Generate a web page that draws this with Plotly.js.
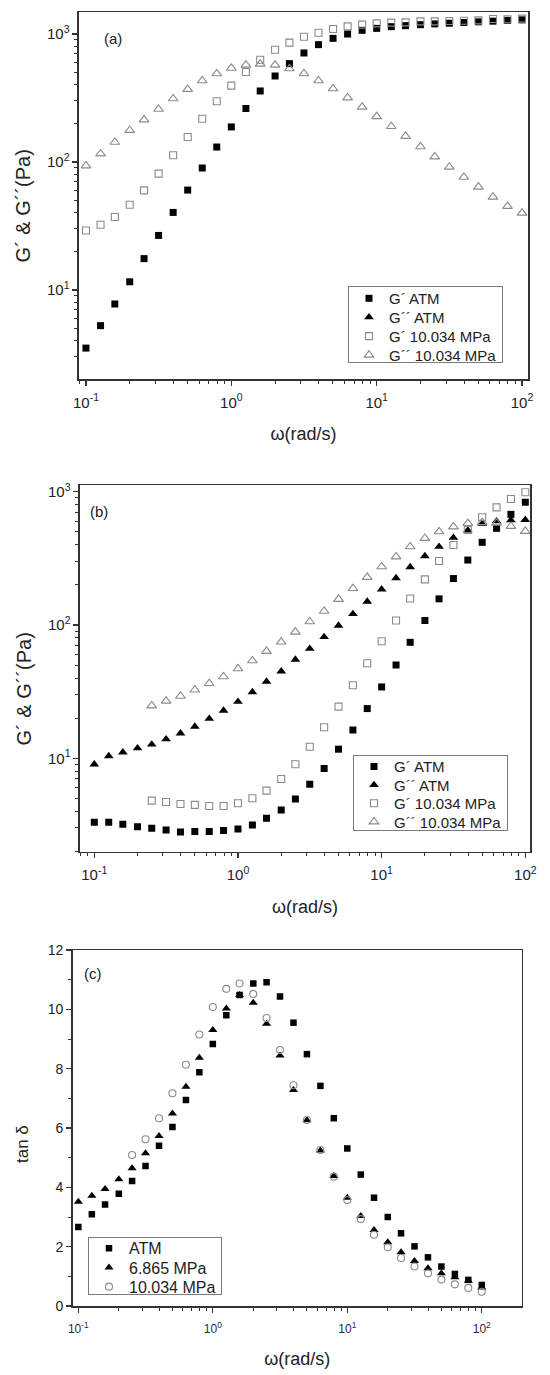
<!DOCTYPE html>
<html>
<head>
<meta charset="utf-8">
<script src="https://cdn.plot.ly/plotly-3.0.1.min.js"></script>
<style>
  html, body { margin: 0; padding: 0; background: #fff; }
  #chart { width: 550px; height: 1375px; }
</style>
</head>
<body>
<div id="chart"></div>
<script>
// ---------- data ----------
const omega = [0.1, 0.126, 0.158, 0.2, 0.251, 0.316, 0.398, 0.501, 0.631, 0.794,
               1, 1.26, 1.58, 2, 2.51, 3.16, 3.98, 5.01, 6.31, 7.94,
               10, 12.6, 15.8, 20, 25.1, 31.6, 39.8, 50.1, 63.1, 79.4, 100];

// panel (a)
const gPrimeAtmA = [3.52, 5.27, 7.78, 11.6, 17.6, 26.7, 40.4, 60.4, 89.8, 131,
                    188, 262, 359, 470, 587, 711, 826, 925, 1000, 1069,
                    1107, 1141, 1162, 1183, 1200, 1215, 1230, 1245, 1260, 1275, 1290];
const gDblAtmA = [null];
const gPrimeMpaA = [29.2, 32.4, 37.2, 46.4, 60.1, 81.1, 113, 157, 218, 298,
                    395, 505, 630, 754, 856, 953, 1024, 1094, 1148, 1183,
                    1212, 1227, 1233, 1256, 1256, 1264, 1271, 1279, 1310, 1302, 1318];
const gDblMpaA = [93.6, 116, 143, 177, 214, 259, 313, 370, 432, 490,
                  542, 573, 583, 573, 536, 490, 432, 374, 318, 269,
                  227, 190, 159, 132, 110, 91.4, 76.3, 63.8, 53.3, 45.1, 40.0];

// panel (b)
const gPrimeAtmB = [3.31, 3.31, 3.20, 3.07, 2.99, 2.90, 2.80, 2.82, 2.82, 2.87,
                    2.95, 3.16, 3.55, 4.10, 4.95, 6.38, 8.37, 11.7, 16.3, 23.6,
                    34.3, 50.1, 74.1, 108, 157, 223, 307, 417, 531, 676, 832];
const gDblAtmB = [9.02, 10.4, 11.1, 11.9, 12.7, 13.9, 15.4, 17.3, 19.8, 22.8,
                  26.6, 31.4, 37.6, 44.9, 55.0, 66.4, 81.3, 98.9, 121, 150,
                  185, 225, 272, 329, 387, 452, 513, 575, 600, 613, 615];
const gPrimeMpaB = [null, null, null, null, 4.81, 4.70, 4.54, 4.47, 4.39, 4.39,
                    4.60, 5.01, 5.72, 7.00, 9.02, 12.2, 17.1, 24.4, 35.3, 51.6,
                    75.4, 108, 158, 220, 302, 398, 516, 642, 763, 881, 989];
const gDblMpaB = [null, null, null, null, 24.8, 26.9, 29.3, 32.6, 36.5, 41.0,
                  47.0, 54.0, 63.5, 74.6, 88.6, 106, 127, 156, 188, 228,
                  274, 325, 387, 447, 501, 546, 579, 589, 582, 550, 505];

// panel (c)
const tanAtm = [2.66, 3.09, 3.42, 3.78, 4.21, 4.72, 5.40, 6.03, 6.94, 7.88,
                8.83, 9.80, 10.48, 10.87, 10.91, 10.43, 9.55, 8.49, 7.42, 6.33,
                5.31, 4.43, 3.65, 3.00, 2.45, 2.01, 1.64, 1.33, 1.08, 0.88, 0.71];
const tan6865 = [3.51, 3.72, 3.94, 4.27, 4.64, 5.15, 5.73, 6.49, 7.39, 8.37,
                 9.30, 10.03, 10.48, 10.22, 9.51, 8.44, 7.28, 6.26, 5.24, 4.38,
                 3.65, 3.03, 2.56, 2.15, 1.81, 1.52, 1.27, 1.10, 0.97, 0.85, 0.62];
const tan10034 = [null, null, null, null, 5.09, 5.62, 6.33, 7.17, 8.13, 9.15,
                  10.08, 10.69, 10.87, 10.52, 9.71, 8.63, 7.44, 6.27, 5.26, 4.36,
                  3.57, 2.93, 2.40, 1.98, 1.62, 1.33, 1.10, 0.89, 0.73, 0.61, 0.48];

// tick labels
const omegaTickVals = [0.1, 1, 10, 100];
const omegaTickText = ['10<sup>-1</sup>', '10<sup>0</sup>', '10<sup>1</sup>', '10<sup>2</sup>'];
const modTickVals = [10, 100, 1000];
const modTickText = ['10<sup>1</sup>', '10<sup>2</sup>', '10<sup>3</sup>'];
const tanTickVals = [0, 2, 4, 6, 8, 10, 12];
const tanTickText = ['0', '2', '4', '6', '8', '10', '12'];

// legend names and titles
const namesAB = ['G\u00B4 ATM', 'G\u00B4\u00B4 ATM', 'G\u00B4 10.034 MPa', 'G\u00B4\u00B4 10.034 MPa'];
const namesC = ['ATM', '6.865 MPa', '10.034 MPa'];
const xTitleText = '\u03C9(rad/s)';
const gTitleText = 'G\u00B4 & G\u00B4\u00B4(Pa)';
const tanTitleText = 'tan \u03B4';
const panelLabels = ['(a)', '(b)', '(c)'];

// ---------- styling helpers ----------
const FONT = 'Liberation Sans, Arial, Helvetica, sans-serif';
const AXC = '#333';
const OPEN = '#8a8a8a';

function logMinor(decStart, decEnd) {
  const v = [];
  for (let d = decStart; d <= decEnd; d++) {
    for (let m = 2; m <= 9; m++) v.push(m * Math.pow(10, d));
  }
  return v;
}
const minorOmega = logMinor(-2, 2);
const minorMod = logMinor(0, 3);
const minorTan = [1, 3, 5, 7, 9, 11];

function mainAxis(o) {
  return Object.assign({
    showline: true, linecolor: AXC, linewidth: 1.5, mirror: true,
    showgrid: false, zeroline: false,
    ticks: 'outside', ticklen: 5, tickwidth: 1.2, tickcolor: AXC,
    tickmode: 'array',
    tickfont: {family: FONT, size: 15, color: '#222'},
    autorange: false
  }, o);
}
function mirrorAxis(o) {
  return Object.assign({
    showline: false, showgrid: false, zeroline: false,
    ticks: 'inside', ticklen: 5, tickwidth: 1.2, tickcolor: AXC,
    tickmode: 'array', showticklabels: false, autorange: false
  }, o);
}
function minor(vals) {
  return {tickmode: 'array', tickvals: vals, ticks: 'outside', ticklen: 3, tickwidth: 1, tickcolor: AXC, showgrid: false};
}
function minorIn(vals) {
  return {tickmode: 'array', tickvals: vals, ticks: 'inside', ticklen: 3, tickwidth: 1, tickcolor: AXC, showgrid: false};
}

const rA = {x: [-1.048, 2.041], y: [0.305, 3.172]};
const rB = {x: [-1.0995, 2.0327], y: [0.2993, 3.050]};
const rC = {x: [-1.042, 2.297], y: [0, 12]};

function xTitle(standoff) {
  return {text: xTitleText, font: {family: FONT, size: 18, color: '#222'}, standoff: standoff};
}

// ---------- traces ----------
const mk = {
  fsq: {symbol: 'square', size: 7, color: '#000'},
  ftri: {symbol: 'triangle-up', size: 8.5, color: '#000'},
  osq: {symbol: 'square-open', size: 7, color: OPEN, line: {width: 1.1}},
  otri: {symbol: 'triangle-up-open', size: 8.5, color: OPEN, line: {width: 1.1}},
  fsqC: {symbol: 'square', size: 6.5, color: '#000'},
  ftriC: {symbol: 'triangle-up', size: 8, color: '#000'},
  ocirC: {symbol: 'circle-open', size: 7, color: OPEN, line: {width: 1.1}}
};
function tr(x, y, name, marker, xa, ya, leg) {
  return {type: 'scatter', mode: 'markers', x: x, y: y, name: name, marker: marker,
          xaxis: xa, yaxis: ya, legend: leg, cliponaxis: true, hoverinfo: 'x+y+name'};
}

const traces = [
  tr(omega, gPrimeAtmA, namesAB[0], mk.fsq, 'x', 'y', 'legend'),
  tr([null], gDblAtmA, namesAB[1], mk.ftri, 'x', 'y', 'legend'),
  tr(omega, gPrimeMpaA, namesAB[2], mk.osq, 'x', 'y', 'legend'),
  tr(omega, gDblMpaA, namesAB[3], mk.otri, 'x', 'y', 'legend'),

  tr(omega, gPrimeAtmB, namesAB[0], mk.fsq, 'x2', 'y2', 'legend2'),
  tr(omega, gDblAtmB, namesAB[1], mk.ftri, 'x2', 'y2', 'legend2'),
  tr(omega, gPrimeMpaB, namesAB[2], mk.osq, 'x2', 'y2', 'legend2'),
  tr(omega, gDblMpaB, namesAB[3], mk.otri, 'x2', 'y2', 'legend2'),

  tr(omega, tanAtm, namesC[0], mk.fsqC, 'x3', 'y3', 'legend3'),
  tr(omega, tan6865, namesC[1], mk.ftriC, 'x3', 'y3', 'legend3'),
  tr(omega, tan10034, namesC[2], mk.ocirC, 'x3', 'y3', 'legend3')
];

function legendBox(x, y, size) {
  return {x: x, y: y, xanchor: 'left', yanchor: 'top', xref: 'paper', yref: 'paper',
          bgcolor: '#fff', bordercolor: '#7a7a7a', borderwidth: 1,
          font: {family: FONT, size: size, color: '#222'}, tracegroupgap: 0, itemwidth: 30};
}

const domA = {x: [0.1436, 0.96], y: [0.72436, 0.99127]};
const domB = {x: [0.14545, 0.96364], y: [0.38058, 0.64727]};
const domC = {x: [0.13218, 0.94855], y: [0.05018, 0.30909]};

function note(text, x, y, size, extra) {
  return Object.assign({text: text, xref: 'paper', yref: 'paper', x: x, y: y,
    xanchor: 'left', yanchor: 'middle', showarrow: false,
    font: {family: FONT, size: size, color: '#222'}}, extra || {});
}

const layout = {
  width: 550, height: 1375,
  margin: {l: 0, r: 0, t: 0, b: 0},
  paper_bgcolor: '#fff', plot_bgcolor: '#fff',
  font: {family: FONT, color: '#222'},
  showlegend: true,
  hovermode: false,

  xaxis: mainAxis({type: 'log', domain: domA.x, anchor: 'y', range: rA.x, ticklabelstandoff: 4,
    tickvals: omegaTickVals, ticktext: omegaTickText, minor: minor(minorOmega), title: xTitle(18)}),
  yaxis: mainAxis({type: 'log', domain: domA.y, anchor: 'x', range: rA.y,
    tickvals: modTickVals, ticktext: modTickText, minor: minor(minorMod)}),
  xaxis4: mirrorAxis({type: 'log', overlaying: 'x', side: 'top', anchor: 'y', range: rA.x,
    tickvals: omegaTickVals, minor: minorIn(minorOmega)}),
  yaxis4: mirrorAxis({type: 'log', overlaying: 'y', side: 'right', anchor: 'x', range: rA.y,
    tickvals: modTickVals, minor: minorIn(minorMod)}),

  xaxis2: mainAxis({type: 'log', domain: domB.x, anchor: 'y2', range: rB.x, ticklabelstandoff: 4,
    tickvals: omegaTickVals, ticktext: omegaTickText, minor: minor(minorOmega), title: xTitle(18)}),
  yaxis2: mainAxis({type: 'log', domain: domB.y, anchor: 'x2', range: rB.y,
    tickvals: modTickVals, ticktext: modTickText, minor: minor(minorMod)}),
  xaxis5: mirrorAxis({type: 'log', overlaying: 'x2', side: 'top', anchor: 'y2', range: rB.x,
    tickvals: omegaTickVals, minor: minorIn(minorOmega)}),
  yaxis5: mirrorAxis({type: 'log', overlaying: 'y2', side: 'right', anchor: 'x2', range: rB.y,
    tickvals: modTickVals, minor: minorIn(minorMod)}),

  xaxis3: mainAxis({type: 'log', domain: domC.x, anchor: 'y3', range: rC.x, ticklabelstandoff: 6,
    tickvals: omegaTickVals, ticktext: omegaTickText, minor: minor(minorOmega), title: xTitle(17),
    tickfont: {family: FONT, size: 12, color: '#1f2d48'}}),
  yaxis3: mainAxis({type: 'linear', domain: domC.y, anchor: 'x3', range: rC.y,
    tickvals: tanTickVals, ticktext: tanTickText, minor: minor(minorTan),
    tickfont: {family: FONT, size: 14, color: '#222'}}),
  xaxis6: mirrorAxis({type: 'log', overlaying: 'x3', side: 'top', anchor: 'y3', range: rC.x,
    tickvals: omegaTickVals, minor: minorIn(minorOmega)}),
  yaxis6: mirrorAxis({type: 'linear', overlaying: 'y3', side: 'right', anchor: 'x3', range: rC.y,
    tickvals: tanTickVals, minor: minorIn(minorTan)}),

  legend: legendBox(0.6327, 0.792, 15),
  legend2: legendBox(0.6418, 0.4509, 15),
  legend3: legendBox(0.16, 0.1004, 16),

  annotations: [
    note(panelLabels[0], 0.1855, 0.97236, 15),
    note(panelLabels[1], 0.1594, 0.62785, 15),
    note(panelLabels[2], 0.1485, 0.29215, 15),
    note(gTitleText, 0.04273, 0.85018, 20, {textangle: -90, xanchor: 'center'}),
    note(gTitleText, 0.04273, 0.49891, 20, {textangle: -90, xanchor: 'center'}),
    note(tanTitleText, 0.0400, 0.16800, 17, {textangle: -90, xanchor: 'center'})
  ]
};

// compact legend rows (Origin-style spacing)
const legendRows = {
  legend:  {top: 12.3, step: 18.9, height: 77},
  legend2: {top: 11.5, step: 18.4, height: 76},
  legend3: {top: 11.3, step: 19.2, height: 58}
};
function compactLegends() {
  Object.keys(legendRows).forEach(function(id) {
    const g = document.querySelector('#chart g.' + id);
    if (!g) return;
    const cfg = legendRows[id];
    const items = g.querySelectorAll('g.traces');
    items.forEach(function(it, i) {
      it.setAttribute('transform', 'translate(1,' + (cfg.top + i * cfg.step) + ')');
    });
    const bg = g.querySelector('rect.bg');
    if (bg) bg.setAttribute('height', cfg.height - 1);
  });
}

Plotly.newPlot('chart', traces, layout, {staticPlot: true, displayModeBar: false}).then(compactLegends);
</script>
</body>
</html>
